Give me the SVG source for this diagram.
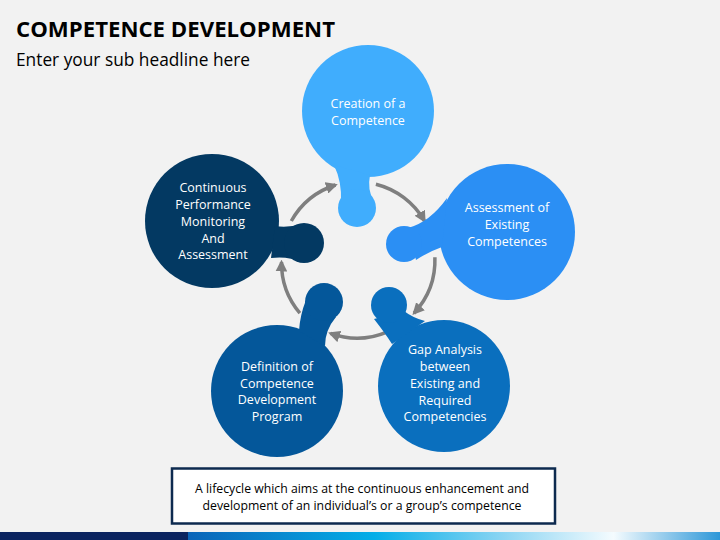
<svg xmlns="http://www.w3.org/2000/svg" width="720" height="540" viewBox="0 0 720 540">
<defs>
<style>
.t{font-family:"Open Sans","Liberation Sans",sans-serif;font-size:12.5px;fill:#ffffff;text-anchor:middle}
.arc{fill:none;stroke:#7f7f7f;stroke-width:3.5;marker-end:url(#ah)}
.bt{font-family:"Open Sans","Liberation Sans",sans-serif;font-size:12.3px;fill:#000000;text-anchor:middle}
</style>
<marker id="ah" viewBox="0 0 10 10" refX="8" refY="5" markerWidth="3.4" markerHeight="3.4" orient="auto" markerUnits="strokeWidth">
<path d="M0,0 L10,5 L0,10 Z" fill="#7f7f7f"/>
</marker>
<linearGradient id="bar" x1="0" y1="0" x2="1" y2="0">
<stop offset="0" stop-color="#0a64b8"/>
<stop offset="0.35" stop-color="#04aee8"/>
<stop offset="0.6" stop-color="#8fd6f3"/>
<stop offset="0.8" stop-color="#f4fbfe"/>
<stop offset="1" stop-color="#2c97d8"/>
</linearGradient>
</defs>
<rect width="720" height="540" fill="#f2f2f2"/>
<text x="16" y="37" font-family="'Open Sans','Liberation Sans',sans-serif" font-weight="bold" font-size="22" fill="#000" textLength="319" lengthAdjust="spacingAndGlyphs">COMPETENCE DEVELOPMENT</text>
<text x="16" y="66" font-family="'Open Sans','Liberation Sans',sans-serif" font-size="17.5" fill="#000" textLength="234" lengthAdjust="spacingAndGlyphs">Enter your sub headline here</text>

<g id="connectors">
<path class="arc" d="M291.3,221.0 A78,78 0 0 1 335.5,185.0"/>
<path class="arc" d="M375.9,184.3 A78,78 0 0 1 424.5,221.0"/>
<path class="arc" d="M434.9,257.3 A78,78 0 0 1 414.0,313.2"/>
<path class="arc" d="M387.5,331.8 A78,78 0 0 1 330.4,333.3"/>
<path class="arc" d="M299.9,313.2 A78,78 0 0 1 281.5,262.0"/>
</g>

<g id="node-creation" fill="#40adfd">
<circle cx="368" cy="111" r="66"/>
<path d="M334,165 Q342,182 341,202 L374,202 Q367,190 370,175 Z"/>
<circle cx="357" cy="208" r="19"/>
<text class="t" x="368" y="108">Creation of a</text>
<text class="t" x="368" y="125">Competence</text>
</g>

<g id="node-assessment" fill="#2b8ff4">
<circle cx="507" cy="232" r="68"/>
<path d="M408,228 Q430,222 447,198 L442,247 Q428,252 416,260 Z"/>
<circle cx="404" cy="244" r="18"/>
<text class="t" x="507" y="212">Assessment of</text>
<text class="t" x="507" y="229">Existing</text>
<text class="t" x="507" y="246">Competences</text>
</g>

<g id="node-gap" fill="#0a6fbe">
<circle cx="444" cy="386" r="66"/>
<path d="M404,311 Q413,318 425,321 L392,344 Q385,333 374,319 Z"/>
<circle cx="389" cy="305" r="18"/>
<text class="t" x="445" y="354">Gap Analysis</text>
<text class="t" x="445" y="371">between</text>
<text class="t" x="445" y="388">Existing and</text>
<text class="t" x="445" y="405">Required</text>
<text class="t" x="445" y="421">Competencies</text>
</g>

<g id="node-definition" fill="#04579a">
<circle cx="277" cy="391" r="66"/>
<path d="M306,300 Q300,315 299,331 L325,346 Q325,330 336,317 Z"/>
<circle cx="324" cy="302" r="19"/>
<text class="t" x="277" y="371">Definition of</text>
<text class="t" x="277" y="388">Competence</text>
<text class="t" x="277" y="404">Development</text>
<text class="t" x="277" y="421">Program</text>
</g>

<g id="node-continuous" fill="#033962">
<circle cx="212" cy="221" r="67"/>
<path d="M275,226 Q288,228 302,224 L302,262 Q288,256 271,258 Z"/>
<circle cx="304" cy="243" r="20"/>
<text class="t" x="213" y="192">Continuous</text>
<text class="t" x="213" y="209">Performance</text>
<text class="t" x="213" y="226">Monitoring</text>
<text class="t" x="213" y="243">And</text>
<text class="t" x="213" y="259">Assessment</text>
</g>

<g id="summary">
<rect x="172" y="468.5" width="383" height="55" fill="#ffffff" stroke="#0d2a4f" stroke-width="2.5"/>
<text class="bt" x="362" y="493" textLength="334" lengthAdjust="spacingAndGlyphs">A lifecycle which aims at the continuous enhancement and</text>
<text class="bt" x="362" y="510" textLength="319" lengthAdjust="spacingAndGlyphs">development of an individual’s or a group’s competence</text>
</g>

<rect x="0" y="532" width="188" height="8" fill="#0b2460"/>
<rect x="188" y="532" width="532" height="8" fill="url(#bar)"/>
</svg>
